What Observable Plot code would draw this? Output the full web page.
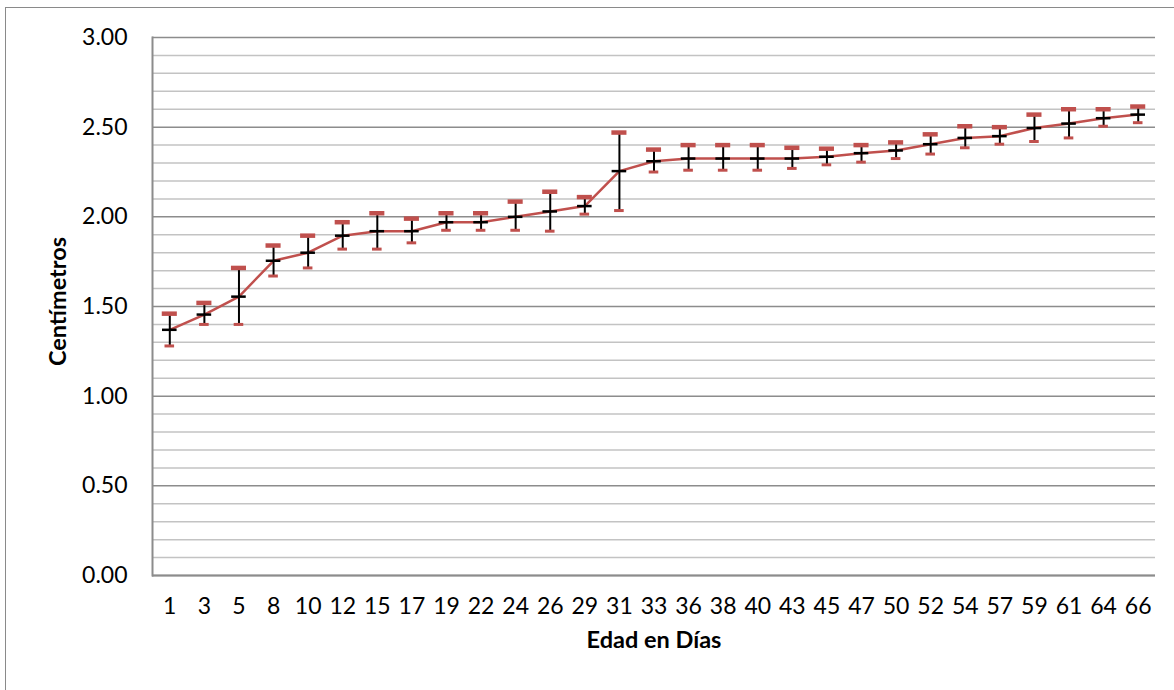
<!DOCTYPE html>
<html>
<head>
<meta charset="utf-8">
<script src="https://cdn.jsdelivr.net/npm/d3@7"></script>
<script src="https://cdn.jsdelivr.net/npm/@observablehq/plot@0.6"></script>
<style>
  html, body { margin: 0; padding: 0; background: #fff; }
  #wrap { position: relative; width: 1174px; height: 690px; overflow: hidden; background: #fff; }
  #border { position: absolute; left: 5px; top: 7px; width: 1200px; height: 720px; border-left: 1.5px solid #8a8a8a; border-top: 1.5px solid #8a8a8a; pointer-events: none; }
  #chart { position: absolute; left: 0; top: 0; }
</style>
</head>
<body>
<div id="wrap"><div id="chart"></div><div id="border"></div></div>
<script>
// Edad en días (categorías)
const dias = [1, 3, 5, 8, 10, 12, 15, 17, 19, 22, 24, 26, 29, 31, 33, 36, 38, 40, 43, 45, 47, 50, 52, 54, 57, 59, 61, 64, 66];
// Longitud media (cm)
const media = [1.37, 1.455, 1.555, 1.755, 1.80, 1.895, 1.92, 1.92, 1.97, 1.97, 2.00, 2.03, 2.06, 2.255, 2.31, 2.325, 2.325, 2.325, 2.325, 2.335, 2.355, 2.37, 2.405, 2.44, 2.45, 2.495, 2.52, 2.55, 2.57];
// Extremo superior de la barra de error
const superior = [1.46, 1.52, 1.715, 1.84, 1.895, 1.97, 2.02, 1.99, 2.02, 2.02, 2.085, 2.14, 2.11, 2.47, 2.375, 2.40, 2.40, 2.40, 2.385, 2.38, 2.40, 2.415, 2.46, 2.505, 2.50, 2.57, 2.60, 2.60, 2.615];
// Extremo inferior de la barra de error
const inferior = [1.28, 1.40, 1.40, 1.67, 1.715, 1.82, 1.82, 1.855, 1.925, 1.925, 1.925, 1.92, 2.015, 2.035, 2.25, 2.26, 2.26, 2.26, 2.27, 2.29, 2.305, 2.325, 2.35, 2.385, 2.405, 2.42, 2.44, 2.505, 2.525];
// Marcas del eje Y
const ticksMayores = [0, 0.5, 1, 1.5, 2, 2.5, 3];
const ticksMenores = d3.range(0, 31).map(d => d / 10).filter(d => Math.round(d * 10) % 5 !== 0);

const data = dias.map((d, i) => ({dia: String(d), media: media[i], sup: superior[i], inf: inferior[i]}));

const font = "Lato, 'Open Sans', sans-serif";
const rojo = "#c0504d";

const chart = Plot.plot({
  width: 1174,
  height: 690,
  marginLeft: 152,
  marginRight: 19,
  marginTop: 37,
  marginBottom: 115,
  style: {fontFamily: font, fontSize: "23px", color: "#000", background: "white"},
  x: {type: "band", domain: dias.map(String), padding: 0, round: false},
  y: {domain: [0, 3]},
  marks: [
    Plot.ruleY(ticksMenores, {stroke: "#c3c3c3", strokeWidth: 1.5}),
    Plot.ruleY(ticksMayores, {stroke: "#8c8c8c", strokeWidth: 1.5}),
    Plot.frame({anchor: "left", stroke: "#8c8c8c", strokeWidth: 2}),
    Plot.ruleY([0], {stroke: "#8c8c8c", strokeWidth: 2}),
    Plot.axisY(ticksMayores, {tickSize: 0, tickPadding: 25, tickFormat: d => d.toFixed(2), label: null, fontSize: 23}),
    Plot.axisX({tickSize: 0, tickPadding: 22, label: null, fontSize: 23}),
    Plot.text(["Centímetros"], {frameAnchor: "left", rotate: -90, dx: -94, dy: -5, textAnchor: "middle", fontWeight: "bold", fontSize: 23.5}),
    Plot.text(["Edad en Días"], {frameAnchor: "bottom", dy: 72, textAnchor: "middle", fontWeight: "bold", fontSize: 23.5}),
    Plot.line(data, {x: "dia", y: "media", stroke: rojo, strokeWidth: 2.5}),
    Plot.ruleX(data, {x: "dia", y1: "inf", y2: "sup", stroke: "#000", strokeWidth: 2}),
    Plot.tickY(data, {x: "dia", y: "sup", stroke: rojo, strokeWidth: 4.5, insetLeft: 9.75, insetRight: 9.75}),
    Plot.tickY(data, {x: "dia", y: "inf", stroke: rojo, strokeWidth: 3, insetLeft: 12.5, insetRight: 12.5}),
    Plot.tickY(data, {x: "dia", y: "media", stroke: "#000", strokeWidth: 2.5, insetLeft: 10, insetRight: 10})
  ]
});
document.getElementById("chart").appendChild(chart);
</script>
</body>
</html>
